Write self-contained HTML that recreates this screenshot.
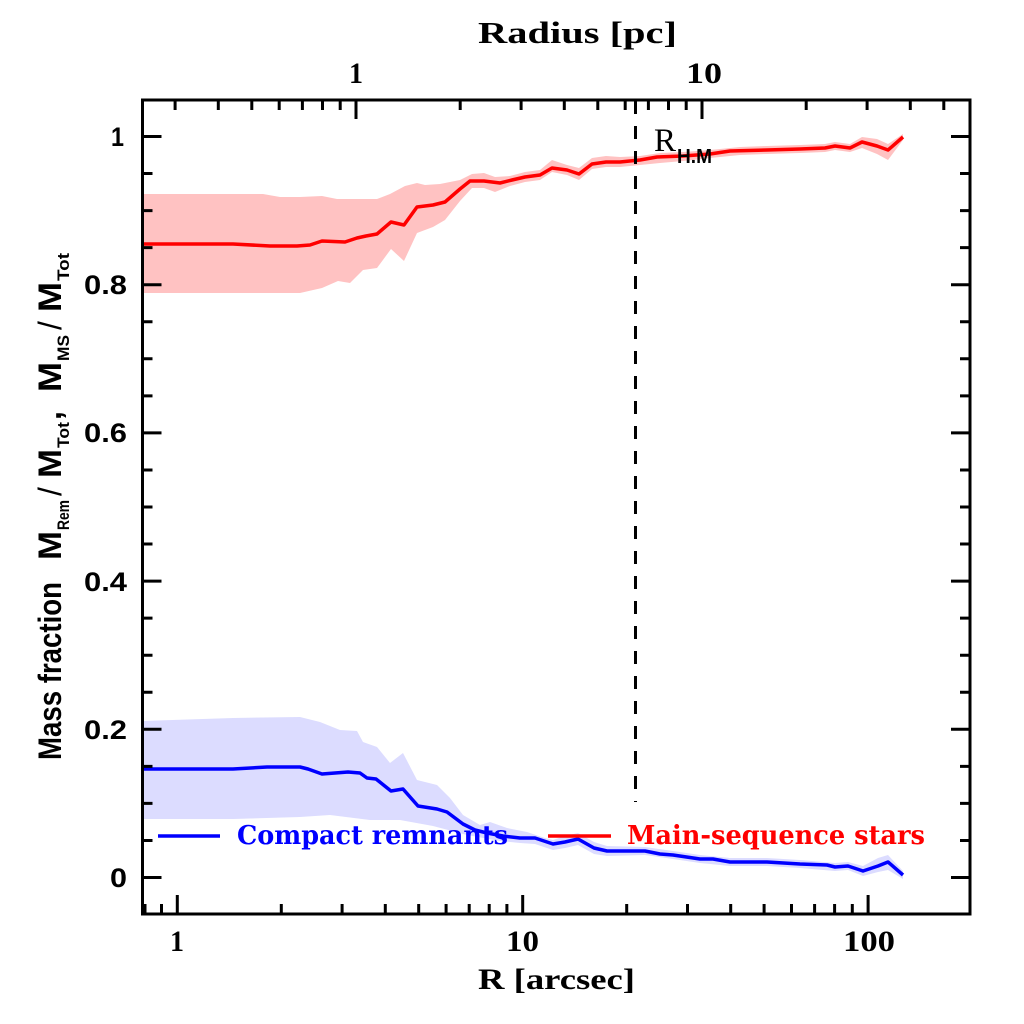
<!DOCTYPE html>
<html>
<head>
<meta charset="utf-8">
<style>
  html, body { margin: 0; padding: 0; background: #ffffff; }
  svg { display: block; }
  .serif { font-family: "Liberation Serif", "DejaVu Serif", serif; font-weight: bold; }
  .dserif { font-family: "DejaVu Serif", "Liberation Serif", serif; font-weight: bold; }
  .sans { font-family: "Liberation Sans", "DejaVu Sans", sans-serif; font-weight: bold; }
</style>
</head>
<body>
<svg width="1024" height="1024" viewBox="0 0 1024 1024" xmlns="http://www.w3.org/2000/svg">
  <rect x="0" y="0" width="1024" height="1024" fill="#ffffff"/>

  <!-- Red band -->
  <polygon fill="#ffc2c2" points="142,194 263,194 280,197 300,197 322,196 337,199 377,199 390,194 405,186 417,183 425,185 440,184 460,180 472,174 484,173 495,177 510,176 525,172 540,170 552,160 567,165 579,168 592,158 606,156 620,157 640,156 660,153 683,152 710,150 740,147 767,146 800,145 825,144 835,142 850,144 862,137 877,139 888,144 903,134 903,140 888,160 877,154 862,148 850,152 835,150 825,152 800,153 767,154 740,155 710,158 683,161 660,163 640,165 620,167 606,167 592,169 579,180 567,175 552,172 540,180 525,182 510,186 495,192 484,188 472,188 460,201 445,220 433,227 417,233 404,261 391,249 377,268 363,270 350,283 338,281 322,288 300,293 142,293"/>

  <!-- Blue band -->
  <polygon fill="#dcdcff" points="142,721 233,718 300,717 320,722 340,730 357,731 363,742 377,747 390,763 403,753 417,780 437,785 450,798 463,815 480,825 490,822 507,828 527,832 545,838 553,840 565,836 578,833 594,842 607,846 645,847 673,851 700,855 730,858 767,858 800,860 835,863 848,862 863,866 878,858 888,855 903,871 903,879 888,870 878,872 863,876 848,870 835,871 800,868 767,866 730,866 700,863 673,859 645,855 607,856 594,854 578,845 565,848 553,850 535,844 520,843 500,841 467,835 433,826 400,820 370,820 330,815 300,817 233,819 142,819"/>

  <!-- Red line -->
  <polyline fill="none" stroke="#ff0000" stroke-width="3.5" stroke-linejoin="round" points="142,244 233,244 270,246 297,246 310,245 322,241 345,242 357,238 366,236 377,234 391,222 404,225 417,207 433,205 445,202 460,189 470,181 484,181 500,183 512,180 525,177 540,175 552,168 567,170 579,174 592,164 606,162 620,162 640,160 657,157 683,156 710,154 730,151 767,150 800,149 825,148 835,146 850,148 862,142 877,146 888,150 903,137"/>

  <!-- Blue line -->
  <polyline fill="none" stroke="#0000ff" stroke-width="3.5" stroke-linejoin="round" points="142,769 233,769 267,767 300,767 308,769 322,774 348,772 360,773 367,778 376,779 391,791 403,789 418,806 437,809 447,812 463,824 475,830 487,833 503,836 520,838 535,838 553,844 565,842 578,839 594,848 607,851 645,851 660,854 673,855 700,859 713,859 730,862 767,862 800,864 827,865 835,867 848,866 863,871 878,866 888,862 903,875"/>

  <!-- Dashed R_HM line -->
  <line x1="635.5" y1="101" x2="635.5" y2="802" stroke="#000" stroke-width="3" stroke-dasharray="13 12"/>

  <!-- Frame -->
  <rect x="142.5" y="100" width="827.5" height="814" fill="none" stroke="#000" stroke-width="3"/>

  <!-- Ticks -->
  <g stroke="#000" stroke-width="3" fill="none">
    <path d="M142.5 877.5h19 M142.5 729.3h19 M142.5 581.1h19 M142.5 432.9h19 M142.5 284.7h19 M142.5 136.5h19
             M970 877.5h-19 M970 729.3h-19 M970 581.1h-19 M970 432.9h-19 M970 284.7h-19 M970 136.5h-19"/>
    <path d="M142.5 840.45h10 M142.5 803.4h10 M142.5 766.35h10 M142.5 692.25h10 M142.5 655.2h10 M142.5 618.15h10 M142.5 544.05h10 M142.5 507h10 M142.5 469.95h10 M142.5 395.85h10 M142.5 358.8h10 M142.5 321.75h10 M142.5 247.65h10 M142.5 210.6h10 M142.5 173.55h10
             M970 840.45h-10 M970 803.4h-10 M970 766.35h-10 M970 692.25h-10 M970 655.2h-10 M970 618.15h-10 M970 544.05h-10 M970 507h-10 M970 469.95h-10 M970 395.85h-10 M970 358.8h-10 M970 321.75h-10 M970 247.65h-10 M970 210.6h-10 M970 173.55h-10"/>
    <path d="M177.3 914v-19 M522.7 914v-19 M868.1 914v-19"/>
    <path d="M145 914v-10 M161.5 914v-10 M281.3 914v-10 M342.1 914v-10 M385.3 914v-10 M418.7 914v-10 M446.1 914v-10 M469.2 914v-10 M489.2 914v-10 M506.9 914v-10
             M626.7 914v-10 M687.5 914v-10 M730.7 914v-10 M764.1 914v-10 M791.5 914v-10 M814.6 914v-10 M834.6 914v-10 M852.3 914v-10"/>
    <path d="M356 100v19 M702 100v19"/>
    <path d="M175.1 100v10 M218.3 100v10 M251.8 100v10 M279.2 100v10 M302.4 100v10 M322.5 100v10 M340.2 100v10
             M460.2 100v10 M521.1 100v10 M564.3 100v10 M597.8 100v10 M625.2 100v10 M648.4 100v10 M668.5 100v10 M686.2 100v10
             M806.2 100v10 M867.1 100v10 M910.3 100v10 M943.8 100v10"/>
  </g>

  <!-- Y tick labels -->
  <g class="sans" font-size="27" fill="#000" text-anchor="end">
    <text x="127" y="887" textLength="17" lengthAdjust="spacingAndGlyphs">0</text>
    <text x="127" y="739" textLength="43" lengthAdjust="spacingAndGlyphs">0.2</text>
    <text x="127" y="591" textLength="43" lengthAdjust="spacingAndGlyphs">0.4</text>
    <text x="127" y="442" textLength="43" lengthAdjust="spacingAndGlyphs">0.6</text>
    <text x="127" y="294" textLength="43" lengthAdjust="spacingAndGlyphs">0.8</text>
    <text x="124" y="146" textLength="13" lengthAdjust="spacingAndGlyphs">1</text>
  </g>

  <!-- X bottom tick labels -->
  <g class="serif" font-size="30" fill="#000">
    <text x="170" y="951" textLength="14" lengthAdjust="spacingAndGlyphs">1</text>
    <text x="506" y="951" textLength="33" lengthAdjust="spacingAndGlyphs">10</text>
    <text x="843" y="951" textLength="52" lengthAdjust="spacingAndGlyphs">100</text>
  </g>

  <!-- X top tick labels -->
  <g class="serif" font-size="30" fill="#000">
    <text x="349" y="83" textLength="14" lengthAdjust="spacingAndGlyphs">1</text>
    <text x="686" y="83" textLength="36" lengthAdjust="spacingAndGlyphs">10</text>
  </g>

  <!-- Axis titles -->
  <text class="serif" x="478" y="43" font-size="31" fill="#000" textLength="199" lengthAdjust="spacingAndGlyphs">Radius [pc]</text>
  <text class="serif" x="478" y="989" font-size="30" fill="#000" textLength="157" lengthAdjust="spacingAndGlyphs">R [arcsec]</text>

  <!-- Y axis label (rotated) -->
  <g transform="translate(61,760) rotate(-90)" class="sans" fill="#000">
    <text x="0" y="0" font-size="32" textLength="178" lengthAdjust="spacingAndGlyphs">Mass fraction</text>
    <text x="200" y="0" font-size="32" textLength="29" lengthAdjust="spacingAndGlyphs">M</text>
    <text x="230" y="8" font-size="17" textLength="30" lengthAdjust="spacingAndGlyphs">Rem</text>
    <text x="264" y="0" font-size="32" font-weight="normal" style="font-weight:normal">/</text>
    <text x="282" y="0" font-size="32" textLength="29" lengthAdjust="spacingAndGlyphs">M</text>
    <text x="312" y="8" font-size="17" textLength="26" lengthAdjust="spacingAndGlyphs">Tot</text>
    <text x="340" y="0" font-size="32">,</text>
    <text x="368" y="0" font-size="32" textLength="30" lengthAdjust="spacingAndGlyphs">M</text>
    <text x="399" y="8" font-size="17" textLength="26" lengthAdjust="spacingAndGlyphs">MS</text>
    <text x="430" y="0" font-size="32" font-weight="normal" style="font-weight:normal">/</text>
    <text x="448" y="0" font-size="32" textLength="30" lengthAdjust="spacingAndGlyphs">M</text>
    <text x="479" y="8" font-size="17" textLength="28" lengthAdjust="spacingAndGlyphs">Tot</text>
  </g>

  <!-- R_HM label -->
  <text x="654" y="151" font-size="33" fill="#000" font-family="Liberation Serif, DejaVu Serif, serif" textLength="22" lengthAdjust="spacingAndGlyphs">R</text>
  <text class="sans" x="677" y="163" font-size="20" fill="#000" textLength="35" lengthAdjust="spacingAndGlyphs">H.M</text>

  <!-- Legend -->
  <line x1="158" y1="836" x2="220" y2="836" stroke="#0000ff" stroke-width="3.5"/>
  <text class="dserif" x="237" y="844" font-size="26" fill="#0000ff" textLength="271" lengthAdjust="spacingAndGlyphs">Compact remnants</text>
  <line x1="548" y1="836" x2="611" y2="836" stroke="#ff0000" stroke-width="3.5"/>
  <text class="dserif" x="627" y="844" font-size="26" fill="#ff0000" textLength="298" lengthAdjust="spacingAndGlyphs">Main-sequence stars</text>
</svg>
</body>
</html>
